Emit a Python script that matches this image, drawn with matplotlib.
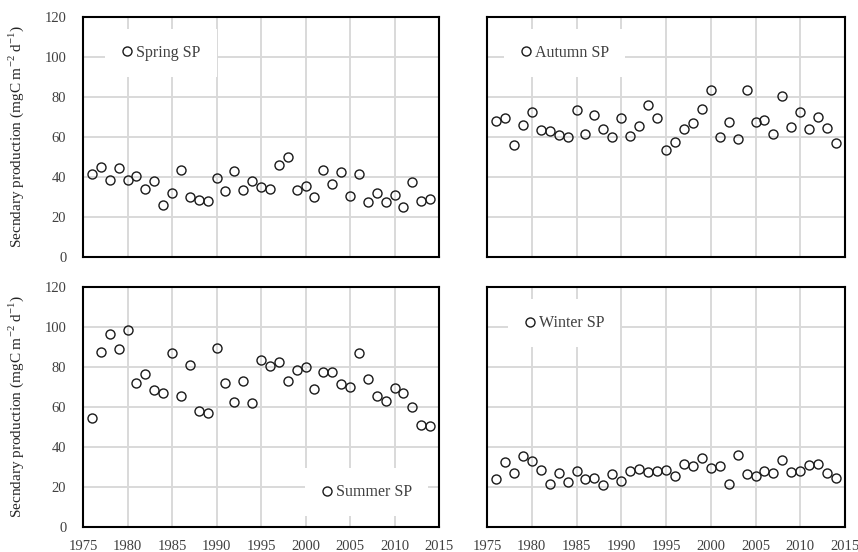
import matplotlib
matplotlib.use("Agg")
import matplotlib.pyplot as plt
import numpy as np

plt.rcParams['font.family'] = ['Liberation Serif', 'DejaVu Serif']
plt.rcParams['mathtext.fontset'] = 'custom'
plt.rcParams['mathtext.rm'] = 'Liberation Serif'

# data
years = list(range(1976, 2015))

spring = [41.6, 45.1, 38.4, 44.6, 38.4, 40.6, 33.9, 38.1, 26.2, 32.1,
          43.3, 30.1, 28.7, 28.2, 39.3, 33.1, 42.8, 33.6, 37.9, 34.8,
          33.9, 46.0, 50.1, 33.6, 35.4, 30.1, 43.3, 36.3, 42.5, 30.4,
          41.6, 27.4, 31.8, 27.4, 31.1, 25.2, 37.6, 27.9, 28.9]

autumn = [68.2, 69.5, 55.8, 66.0, 72.7, 63.7, 62.8, 61.0, 59.8, 73.5,
          61.5, 70.9, 64.2, 60.0, 69.5, 60.7, 65.5, 76.0, 69.5, 53.7,
          57.7, 64.2, 66.9, 74.0, 83.6, 60.2, 67.4, 59.0, 83.6, 67.7,
          68.7, 61.5, 80.6, 65.2, 72.7, 63.8, 70.0, 64.7, 57.2]

summer = [54.3, 87.4, 96.4, 88.8, 98.4, 71.9, 76.7, 68.4, 67.0, 87.1,
          65.7, 81.1, 57.8, 56.8, 89.6, 71.9, 62.7, 72.9, 62.2, 83.4,
          80.7, 82.6, 72.9, 78.6, 80.2, 68.9, 77.7, 77.4, 71.4, 70.2,
          87.1, 74.0, 65.4, 63.2, 69.7, 67.0, 60.2, 51.0, 50.5]

winter = [24.2, 32.3, 26.9, 35.4, 32.8, 28.6, 21.4, 27.2, 22.6, 27.9,
          24.2, 24.6, 21.2, 26.6, 23.1, 28.2, 29.1, 27.4, 28.2, 28.6,
          25.7, 31.4, 30.3, 34.4, 29.6, 30.6, 21.7, 35.9, 26.6, 25.6,
          27.9, 26.9, 33.6, 27.4, 27.9, 31.1, 31.4, 26.9, 24.7]

xticks = list(range(1975, 2016, 5))
yticks = list(range(0, 121, 20))
ylabel = r'Secndary production (mgC m$^{-2}$ d$^{-1}$)'

W, H = 858, 552
fig = plt.figure(figsize=(W / 100, H / 100), dpi=100)

# axes boxes in pixels: left, top, right, bottom
boxes = {
    'spring': (83, 17, 439, 257),
    'autumn': (487, 17, 845, 257),
    'summer': (83, 287, 439, 527),
    'winter': (487, 287, 845, 527),
}
panels = [
    ('spring', spring, 'Spring SP', 'upper left', (0.062, 0.95)),
    ('autumn', autumn, 'Autumn SP', 'upper left', (0.047, 0.95)),
    ('summer', summer, 'Summer SP', 'lower right', (0.97, 0.045)),
    ('winter', winter, 'Winter SP', 'upper left', (0.058, 0.948)),
]

for key, vals, label, loc, anchor in panels:
    l, t, r, b = boxes[key]
    ax = fig.add_axes([l / W, 1 - b / H, (r - l) / W, (b - t) / H])
    ax.plot(years, vals, linestyle='none', marker='o', markersize=6.5,
            markerfacecolor='none', markeredgecolor='#1a1a1a',
            markeredgewidth=1.0, label=label, zorder=3)
    ax.set_xlim(1975, 2015)
    ax.set_ylim(0, 120)
    ax.set_xticks(xticks)
    ax.set_yticks(yticks)
    ax.grid(True, color='#d9d9d9', linewidth=1.4)
    ax.set_axisbelow(True)
    for s in ax.spines.values():
        s.set_linewidth(1.5)
        s.set_color('black')
    ax.tick_params(length=0, labelsize=10.5, labelcolor='#404040')
    ax.tick_params(axis='y', pad=12)
    ax.tick_params(axis='x', pad=9)
    if key in ('spring', 'autumn'):
        ax.set_xticklabels([])
    if key in ('autumn', 'winter'):
        ax.set_yticklabels([])
    else:
        ax.set_ylabel(ylabel, fontsize=11, color='#262626')
        ax.yaxis.set_label_coords(-0.16, 0.5)
    leg = ax.legend(loc=loc, bbox_to_anchor=anchor, borderaxespad=0,
                    frameon=True, fancybox=False, framealpha=1,
                    facecolor='white', edgecolor='none', fontsize=11.5,
                    handlelength=0.8, handletextpad=0.15, borderpad=1.0,
                    labelcolor='#404040')

fig.savefig('out.png', dpi=100)
